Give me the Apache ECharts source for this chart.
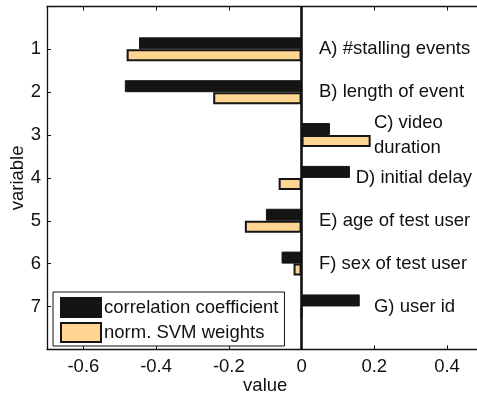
<!DOCTYPE html>
<html>
<head>
<meta charset="utf-8">
<script src="https://cdn.jsdelivr.net/npm/echarts@6/dist/echarts.min.js"></script>
<style>
  html, body { margin: 0; padding: 0; background: #fff; }
  #chart { width: 477px; height: 396px; }
</style>
</head>
<body>
<div id="chart"></div>
<script>
// Variables (rows, top to bottom)
const variables = ['1', '2', '3', '4', '5', '6', '7'];
// Correlation coefficient per variable
const correlation = [-0.447, -0.486, 0.078, 0.133, -0.098, -0.055, 0.16];
// Normalised SVM weights per variable
const svmWeights = [-0.481, -0.243, 0.19, -0.063, -0.156, -0.022, 0];
// Feature descriptions written next to each row
const featureNames = ['A) #stalling events', 'B) length of event', 'C) video\nduration',
  'D) initial delay', 'E) age of test user', 'F) sex of test user', 'G) user id'];
// x value where each description starts
const featureLabelX = [0.048, 0.048, 0.199, 0.149, 0.048, 0.048, 0.199];
// x-axis tick values
const xTicks = [-0.6, -0.4, -0.2, 0, 0.2, 0.4];

const FONT = "'Liberation Sans', Arial, Helvetica, sans-serif";
const INK = '#111111';
const FS = 18.5;

// pad the category axis with an empty slot above and below the rows
const yCategories = [''].concat(variables, ['']);

const chart = echarts.init(document.getElementById('chart'), null, { renderer: 'canvas' });

const xCommon = {
  type: 'value',
  min: -0.7,
  max: 0.5,
  splitLine: { show: false },
  axisLine: { show: true, onZero: false, lineStyle: { color: INK, width: 1.3 } },
  axisTick: { show: true, inside: true, length: 4, customValues: xTicks, lineStyle: { color: INK, width: 1 } }
};

chart.setOption({
  animation: false,
  backgroundColor: '#fff',
  textStyle: { fontFamily: FONT },
  grid: { left: 47, top: 6.5, right: -6.4, bottom: 46.7, outerBoundsMode: 'none' },
  xAxis: [
    Object.assign({}, xCommon, {
      position: 'bottom',
      name: 'value',
      nameLocation: 'middle',
      nameGap: 27,
      nameMoveOverlap: false,
      nameTextStyle: { fontSize: FS, color: INK, fontFamily: FONT },
      axisLabel: { show: true, customValues: xTicks, margin: 8, fontSize: FS, color: INK, fontFamily: FONT,
        formatter: v => String(Math.round(v * 10) / 10) }
    }),
    Object.assign({}, xCommon, {
      position: 'top',
      axisLabel: { show: false }
    })
  ],
  yAxis: {
    type: 'category',
    data: yCategories,
    inverse: true,
    boundaryGap: false,
    name: 'variable',
    nameLocation: 'middle',
    nameGap: 20,
    nameMoveOverlap: false,
    nameRotate: 90,
    nameTextStyle: { fontSize: FS, color: INK, fontFamily: FONT },
    axisLine: { show: true, onZero: false, lineStyle: { color: INK, width: 1.3 } },
    axisTick: { show: true, inside: true, length: 4, lineStyle: { color: INK, width: 1 } },
    axisLabel: { margin: 6, fontSize: FS, color: INK, fontFamily: FONT },
    splitLine: { show: false }
  },
  legend: {
    orient: 'vertical',
    left: 53,
    top: 292,
    padding: [5, 6, 3, 7],
    itemWidth: 40,
    itemHeight: 19,
    itemGap: 4,
    icon: 'rect',
    backgroundColor: '#fff',
    borderColor: INK,
    borderWidth: 1,
    borderRadius: 0,
    data: ['correlation coefficient', 'norm. SVM weights'],
    textStyle: { fontSize: FS, color: INK, fontFamily: FONT, padding: [0, 0, 0, -2] }
  },
  series: [
    {
      name: 'correlation coefficient',
      type: 'bar',
      barWidth: 12,
      barGap: '0%',
      data: correlation.map((v, i) => [v, variables[i]]),
      itemStyle: { color: '#141414', borderColor: '#141414', borderWidth: 1 }
    },
    {
      name: 'norm. SVM weights',
      type: 'bar',
      barWidth: 12,
      barGap: '0%',
      data: svmWeights.map((v, i) => [v, variables[i]]),
      itemStyle: { color: '#FFD591', borderColor: '#141414', borderWidth: 2 },
      markLine: {
        silent: true,
        symbol: 'none',
        label: { show: false },
        lineStyle: { color: INK, width: 2.6, type: 'solid' },
        data: [{ xAxis: 0 }],
        z: 5
      }
    },
    {
      name: 'descriptions',
      type: 'scatter',
      symbolSize: 0,
      silent: true,
      itemStyle: { opacity: 1 },
      data: featureNames.map((n, i) => ({ name: n, value: [featureLabelX[i], variables[i]] })),
      label: {
        show: true,
        position: 'inside',
        align: 'left',
        verticalAlign: 'middle',
        formatter: '{b}',
        fontSize: FS,
        lineHeight: 25,
        color: INK,
        fontFamily: FONT
      }
    }
  ]
});
</script>
</body>
</html>
